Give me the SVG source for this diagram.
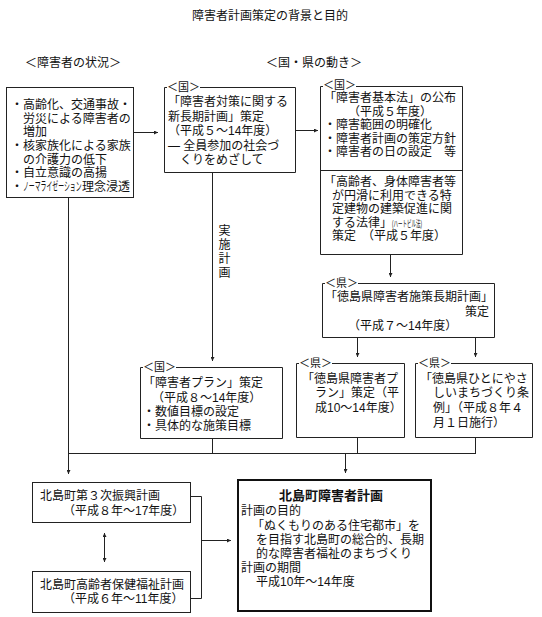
<svg xmlns="http://www.w3.org/2000/svg" width="542" height="617" viewBox="0 0 542 617">
<style>
text{font-family:"Liberation Sans","Noto Sans CJK JP","Noto Sans CJK SC",sans-serif;font-size:12px;fill:#111}
.lbl{font-size:11px}
.box{fill:none;stroke:#222;stroke-width:1}
.main{fill:none;stroke:#111;stroke-width:2}
.ln{fill:none;stroke:#222;stroke-width:1}
.ar{marker-end:url(#ah)}
</style>
<defs>
<marker id="ah" viewBox="0 0 6 6" refX="6" refY="3" markerWidth="5" markerHeight="4" markerUnits="userSpaceOnUse" orient="auto-start-reverse"><path d="M0,0 L6,3 L0,6 z" fill="#222"/></marker>
</defs>
<rect width="542" height="617" fill="#fff"/>
<text x="270" y="20" text-anchor="middle">障害者計画策定の背景と目的</text>
<text x="25" y="67">＜障害者の状況＞</text>
<text x="266" y="67">＜国・県の動き＞</text>

<g id="situation">
<rect class="box" x="6.5" y="87.5" width="127" height="110"/>
<text><tspan x="11" y="109">・高齢化、交通事故・</tspan><tspan x="23" y="122.5">労災による障害者の</tspan><tspan x="23" y="136">増加</tspan><tspan x="11" y="150">・核家族化による家族</tspan><tspan x="23" y="163.5">の介護力の低下</tspan><tspan x="11" y="177">・自立意識の高揚</tspan></text>
<text x="11" y="191">・</text>
<text transform="translate(23 191) scale(0.49 1)">ノーマライゼーション</text>
<text x="82" y="191">理念浸透</text>
</g>

<g id="kuni-longterm">
<path class="box" d="M167,87.5 H164.5 V172.5 H295.5 V87.5 H200"/>
<text><tspan class="lbl" x="167" y="91">＜国＞</tspan><tspan x="168" y="106">「障害者対策に関する</tspan><tspan x="168" y="120.5">新長期計画」策定</tspan><tspan x="168" y="135">（平成５～14年度）</tspan><tspan x="168" y="149.5">― 全員参加の社会づ</tspan><tspan x="180" y="164">くりをめざして</tspan></text>
</g>

<g id="kuni-law">
<path class="box" d="M323,86.5 H320.5 V254.5 H462.5 V86.5 H356"/>
<line class="box" x1="320.5" y1="170.5" x2="462.5" y2="170.5"/>
<text><tspan class="lbl" x="323" y="88.8">＜国＞</tspan><tspan x="324" y="102.2">「障害者基本法」の公布</tspan><tspan x="348" y="115.7">（平成５年度）</tspan><tspan x="324" y="129.2">・障害範囲の明確化</tspan><tspan x="324" y="142.7">・障害者計画の策定方針</tspan><tspan x="324" y="156.2">・障害者の日の設定　等</tspan></text>
<text><tspan x="324" y="186">「高齢者、身体障害者等</tspan><tspan x="332" y="199.5">が円滑に利用できる特</tspan><tspan x="332" y="213">定建物の建築促進に関</tspan><tspan x="332" y="226.5">する法律」</tspan><tspan font-size="9" textLength="30" lengthAdjust="spacingAndGlyphs">(ハートビル法)</tspan><tspan x="332" y="240">策定　（平成５年度）</tspan></text>
</g>

<g id="ken-longterm">
<path class="box" d="M325,283.5 H322.5 V337.5 H494.5 V283.5 H358"/>
<text><tspan class="lbl" x="325" y="287">＜県＞</tspan><tspan x="325" y="301">「徳島県障害者施策長期計画」</tspan><tspan x="465" y="316">策定</tspan><tspan x="348" y="330">（平成７～14年度）</tspan></text>
</g>

<g id="kuni-plan">
<path class="box" d="M143,367.5 H140.5 V438.5 H282.5 V367.5 H176"/>
<text><tspan class="lbl" x="143" y="371">＜国＞</tspan><tspan x="143" y="387">「障害者プラン」策定</tspan><tspan x="152" y="402">（平成８～14年度）</tspan><tspan x="143" y="416">・数値目標の設定</tspan><tspan x="143" y="429.5">・具体的な施策目標</tspan></text>
</g>

<g id="ken-plan">
<path class="box" d="M299,363.5 H296.5 V437.5 H404.5 V363.5 H332"/>
<text><tspan class="lbl" x="299" y="367">＜県＞</tspan><tspan x="302" y="383">「徳島県障害者プ</tspan><tspan x="315" y="397">ラン」策定（平</tspan><tspan x="315" y="412">成10～14年度）</tspan></text>
</g>

<g id="ken-ordinance">
<path class="box" d="M418,363.5 H415.5 V437.5 H532.5 V363.5 H451"/>
<text><tspan class="lbl" x="418" y="367">＜県＞</tspan><tspan x="420" y="383">「徳島県ひとにやさ</tspan><tspan x="433" y="397">しいまちづくり条</tspan><tspan x="433" y="412">例」（平成８年４</tspan><tspan x="433" y="427">月１日施行）</tspan></text>
</g>

<g id="kitajima-3rd">
<rect class="box" x="32.5" y="482.5" width="158" height="40"/>
<text><tspan x="40" y="500">北島町第３次振興計画</tspan><tspan x="63" y="514.5">（平成８年～17年度）</tspan></text>
</g>

<g id="kitajima-elderly">
<rect class="box" x="32.5" y="571.5" width="158" height="41"/>
<text><tspan x="40" y="589">北島町高齢者保健福祉計画</tspan><tspan x="63" y="603">（平成６年～11年度）</tspan></text>
</g>

<g id="kitajima-plan">
<rect class="main" x="238" y="480" width="193" height="131"/>
<text><tspan x="279" y="499.5" font-weight="bold" font-size="13">北島町障害者計画</tspan><tspan x="241" y="515">計画の目的</tspan><tspan x="252" y="529.5">「ぬくもりのある住宅都市」を</tspan><tspan x="256" y="543.5">を目指す北島町の総合的、長期</tspan><tspan x="256" y="557.5">的な障害者福祉のまちづくり</tspan><tspan x="241" y="571.5">計画の期間</tspan><tspan x="256" y="586">平成10年～14年度</tspan></text>
</g>

<g id="connectors">
<path class="ln ar" d="M133.5,132.5 H158"/>
<path class="ln ar" d="M295.5,130.5 H318"/>
<path class="ln ar" d="M390.5,254.5 V277"/>
<path class="ln ar" d="M357.5,337.5 V357"/>
<path class="ln ar" d="M475.5,337.5 V357"/>
<path class="ln ar" d="M212.5,172.5 V361"/>
<text x="223" y="224" style="writing-mode:vertical-rl" letter-spacing="2">実施計画</text>
<path class="ln ar" d="M68.5,197.5 V474"/>
<path class="ln" d="M68.5,453.5 H476"/>
<path class="ln" d="M212.5,438.5 V453.5"/>
<path class="ln" d="M357.5,437.5 V453.5"/>
<path class="ln" d="M475.5,437.5 V453.5"/>
<path class="ln ar" d="M345.5,453.5 V473"/>
<path class="ln ar" d="M104.5,533 V562" marker-start="url(#ah)"/>
<path class="ln" d="M190.5,496.5 H201.5 V598.5 H190.5"/>
<path class="ln ar" d="M201.5,540.5 H231"/>
</g>
</svg>
